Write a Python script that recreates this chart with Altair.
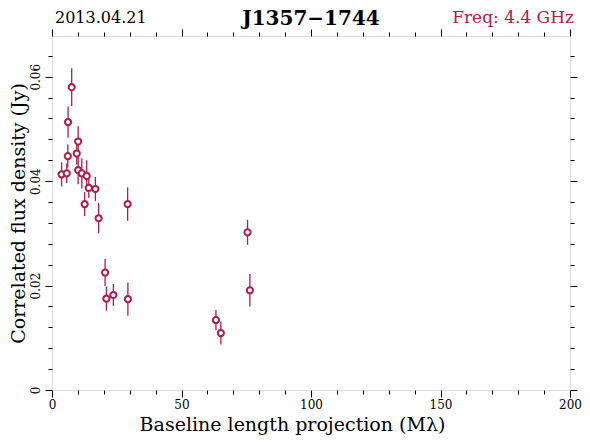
import altair as alt
import pandas as pd

# ---- data ----
baseline = [7.6, 6.2, 10.1, 9.55, 6.1, 3.7, 5.7, 10.1, 11.5, 13.4, 14.2, 16.75,
            12.6, 18.0, 29.2, 20.5, 21.0, 23.7, 29.3, 75.5, 76.4, 63.3, 65.2]
flux = [0.0580, 0.0513, 0.0476, 0.0453, 0.0448, 0.0413, 0.0415, 0.0421, 0.0415,
        0.0410, 0.0387, 0.0385, 0.0356, 0.0329, 0.0356, 0.0225, 0.0175, 0.0182,
        0.0174, 0.0302, 0.0191, 0.0134, 0.0109]
flux_err = [0.0036, 0.0030, 0.0029, 0.0021, 0.0022, 0.0023, 0.0019, 0.0027, 0.0029,
            0.0030, 0.0019, 0.0023, 0.0023, 0.0029, 0.0032, 0.0026, 0.0023, 0.0021,
            0.0032, 0.0024, 0.0031, 0.0019, 0.0022]

x_ticks = [0, 10, 20, 30, 40, 50, 60, 70, 80, 90, 100, 110, 120, 130, 140, 150,
           160, 170, 180, 190, 200]
y_ticks = [0, 0.004, 0.008, 0.012, 0.016, 0.02, 0.024, 0.028, 0.032, 0.036, 0.04,
           0.044, 0.048, 0.052, 0.056, 0.06, 0.064]
x_domain = [0, 200]
y_domain = [0, 0.0678]

title_text = ["J1357\u22121744"]
date_text = ["2013.04.21"]
freq_text = ["Freq: 4.4 GHz"]

COL = "#B5194A"
FONT = "DejaVu Serif"

df = pd.DataFrame({
    "b": baseline,
    "f": flux,
    "lo": [f - e for f, e in zip(flux, flux_err)],
    "hi": [f + e for f, e in zip(flux, flux_err)],
})

xscale = alt.Scale(domain=x_domain, nice=False, zero=False)
yscale = alt.Scale(domain=y_domain, nice=False, zero=False)

x_major = "datum.value % 50 === 0"
y_major = "abs(datum.value*50 - round(datum.value*50)) < 0.001"

x_axis = alt.Axis(
    values=x_ticks, grid=False, domain=False, orient="bottom",
    tickColor="black", tickWidth=1,
    tickSize={"condition": {"test": x_major, "value": 7}, "value": 4},
    labelExpr=f"{x_major} ? datum.label : ''",
    labelFont=FONT, labelFontSize=12, labelColor="black", labelPadding=2,
    labelFlush=False,
    title="Baseline length projection (M\u03bb)", titleFont=FONT,
    titleFontSize=19, titleFontWeight="normal", titleColor="black",
    titlePadding=5, titleX=240,
)
y_axis = alt.Axis(
    values=y_ticks, grid=False, domain=False, orient="left",
    tickColor="black", tickWidth=1,
    tickSize={"condition": {"test": y_major, "value": 7}, "value": 4},
    labelExpr=f"{y_major} ? format(datum.value, '.2~f') : ''",
    labelFont=FONT, labelFontSize=12, labelColor="black", labelAngle=270,
    labelAlign="center", labelBaseline="bottom", labelPadding=3,
    labelFlush=False,
    title="Correlated flux density (Jy)", titleFont=FONT, titleFontSize=19,
    titleFontWeight="normal", titleColor="black", titlePadding=1,
)
x_axis_top = alt.Axis(
    values=x_ticks, grid=False, domain=False, orient="top", labels=False,
    title=None, tickColor="black", tickWidth=1,
    tickSize={"condition": {"test": x_major, "value": 7}, "value": 4},
)
y_axis_right = alt.Axis(
    values=y_ticks, grid=False, domain=False, orient="right", labels=False,
    title=None, tickColor="black", tickWidth=1,
    tickSize={"condition": {"test": y_major, "value": 7}, "value": 4},
)

base = alt.Chart(df)

errbars = base.mark_rule(color=COL, strokeWidth=1.3).encode(
    x=alt.X("b:Q", scale=xscale, axis=x_axis),
    y=alt.Y("lo:Q", scale=yscale, axis=y_axis),
    y2="hi:Q",
)
points = base.mark_point(shape="circle", filled=False, color=COL, fill="white",
                         fillOpacity=1, strokeWidth=2, size=38, opacity=1).encode(
    x=alt.X("b:Q", scale=xscale, axis=None),
    y=alt.Y("f:Q", scale=yscale, axis=None),
)
mirror = base.mark_point(opacity=0).encode(
    x=alt.X("b:Q", scale=xscale, axis=x_axis_top),
    y=alt.Y("f:Q", scale=yscale, axis=y_axis_right),
)

title_mark = alt.Chart(pd.DataFrame({"t": title_text})).mark_text(
    font=FONT, fontSize=20, fontWeight="bold", color="black",
    align="center", baseline="alphabetic",
).encode(text="t:N", x=alt.value(259), y=alt.value(-11))
date_mark = alt.Chart(pd.DataFrame({"t": date_text})).mark_text(
    font=FONT, fontSize=16, color="black", align="left", baseline="alphabetic",
).encode(text="t:N", x=alt.value(3), y=alt.value(-13))
freq_mark = alt.Chart(pd.DataFrame({"t": freq_text})).mark_text(
    font=FONT, fontSize=17, color=COL, align="right", baseline="alphabetic",
).encode(text="t:N", x=alt.value(522), y=alt.value(-13))

chart = alt.layer(
    mirror, errbars, points, title_mark, date_mark, freq_mark
).resolve_axis(x="independent", y="independent").properties(
    width=518, height=354,
    autosize=alt.AutoSizeParams(type="none"),
    padding={"left": 44, "top": 28, "right": 12, "bottom": 45},
).configure_view(stroke="black", strokeWidth=1.2).configure(background="white")

chart.save("out.html", embed_options={"renderer": "svg", "actions": False})
